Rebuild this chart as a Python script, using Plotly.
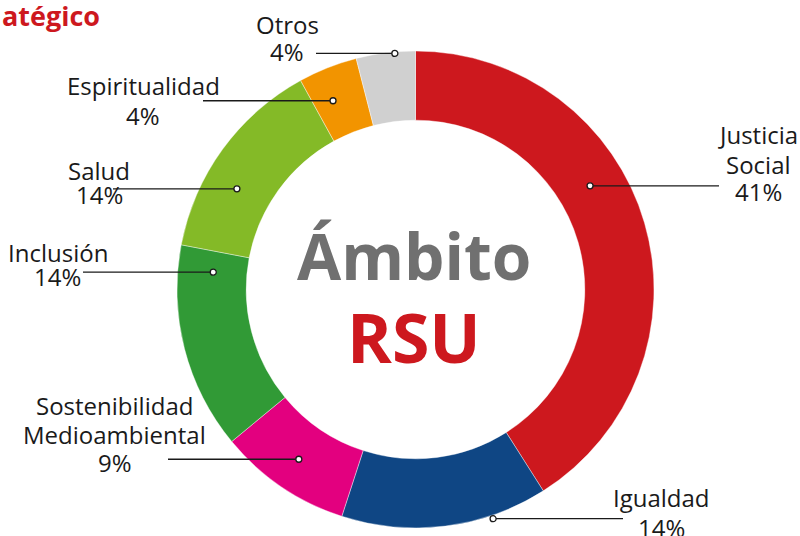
import math
import plotly.graph_objects as go

W, H = 800, 536

categorias = ["Justicia Social", "Igualdad", "Sostenibilidad Medioambiental",
              "Inclusión", "Salud", "Espiritualidad", "Otros"]
porcentajes = [41, 14, 9, 14, 14, 4, 4]
colores = ["#CD181E", "#0F4684", "#E3007F", "#319A36", "#84BA27", "#F29400", "#D0D0D0"]

# label lines as shown next to each slice
etiquetas = [
    ["Justicia", "Social", "41%"],
    ["Igualdad", "14%"],
    ["Sostenibilidad", "Medioambiental", "9%"],
    ["Inclusión", "14%"],
    ["Salud", "14%"],
    ["Espiritualidad", "4%"],
    ["Otros", "4%"],
]

# donut geometry in pixels
cx, cy, R = 415.5, 289.5, 238.5
hueco = 0.71


def px(x, y):
    return x / W, 1 - y / H


fig = go.Figure(go.Pie(
    labels=categorias,
    values=porcentajes,
    sort=False,
    direction="clockwise",
    rotation=0,
    hole=hueco,
    marker=dict(colors=colores, line=dict(color="white", width=0.4)),
    textinfo="none",
    hoverinfo="label+percent",
    domain=dict(x=[(cx - R) / W, (cx + R) / W],
                y=[(H - cy - R) / H, (H - cy + R) / H]),
    showlegend=False,
))

# leader layout: (angle clockwise from top, radius, line end x, text x, text line ys)
guias = [
    (59.3, 203, 719, 758, [134, 164, 192]),
    (161.3, 242, 623, 661, [497, 527]),
    (214.5, 206, 168, 115, [405, 434, 462]),
    (274.9, 203, 83, 58, [253, 276]),
    (299.4, 205, 113, 99, [170, 194]),
    (336.4, 206, 203, 143, [85, 115]),
    (355.0, 237, 316, 287, [24, 51]),
]

shapes = []
annotations = []
for (ang, r, xend, tx, tys), lineas in zip(guias, etiquetas):
    a = math.radians(ang)
    dx = cx + r * math.sin(a)
    dy = cy - r * math.cos(a)
    x0, y0 = px(xend, dy)
    x1, y1 = px(dx, dy)
    shapes.append(dict(type="line", xref="paper", yref="paper",
                       x0=x0, y0=y0, x1=x1, y1=y1,
                       line=dict(color="#1a1a1a", width=1.3)))
    rr = 3
    shapes.append(dict(type="circle", xref="paper", yref="paper",
                       x0=(dx - rr) / W, x1=(dx + rr) / W,
                       y0=1 - (dy + rr) / H, y1=1 - (dy - rr) / H,
                       fillcolor="white", line=dict(color="#1a1a1a", width=1.3)))
    for txt, ty in zip(lineas, tys):
        ax, ay = px(tx, ty)
        annotations.append(dict(x=ax, y=ay, xref="paper", yref="paper",
                                text=txt, showarrow=False,
                                xanchor="center", yanchor="middle",
                                font=dict(family="Open Sans", size=24, color="#1a1a1a")))

# centre text
annotations.append(dict(x=(cx - 2) / W, y=1 - 255 / H, xref="paper", yref="paper",
                        text="<b>Ámbito</b>", showarrow=False,
                        xanchor="center", yanchor="middle",
                        font=dict(family="Open Sans", size=64, color="#707070")))
annotations.append(dict(x=(cx - 1) / W, y=1 - 336 / H, xref="paper", yref="paper",
                        text="<b>RSU</b>", showarrow=False,
                        xanchor="center", yanchor="middle",
                        font=dict(family="Open Sans", size=68, color="#CD181E")))
# clipped heading at top-left
annotations.append(dict(x=0, y=1 - 16 / H, xref="paper", yref="paper",
                        text="<b>atégico</b>", showarrow=False,
                        xanchor="left", yanchor="middle",
                        font=dict(family="Open Sans", size=27, color="#CD181E")))

fig.update_layout(
    width=W, height=H,
    margin=dict(l=0, r=0, t=0, b=0),
    paper_bgcolor="white",
    plot_bgcolor="white",
    shapes=shapes,
    annotations=annotations,
)

fig.write_html("out.html", config={"displayModeBar": False},
               post_script="document.body.style.margin='0';")
